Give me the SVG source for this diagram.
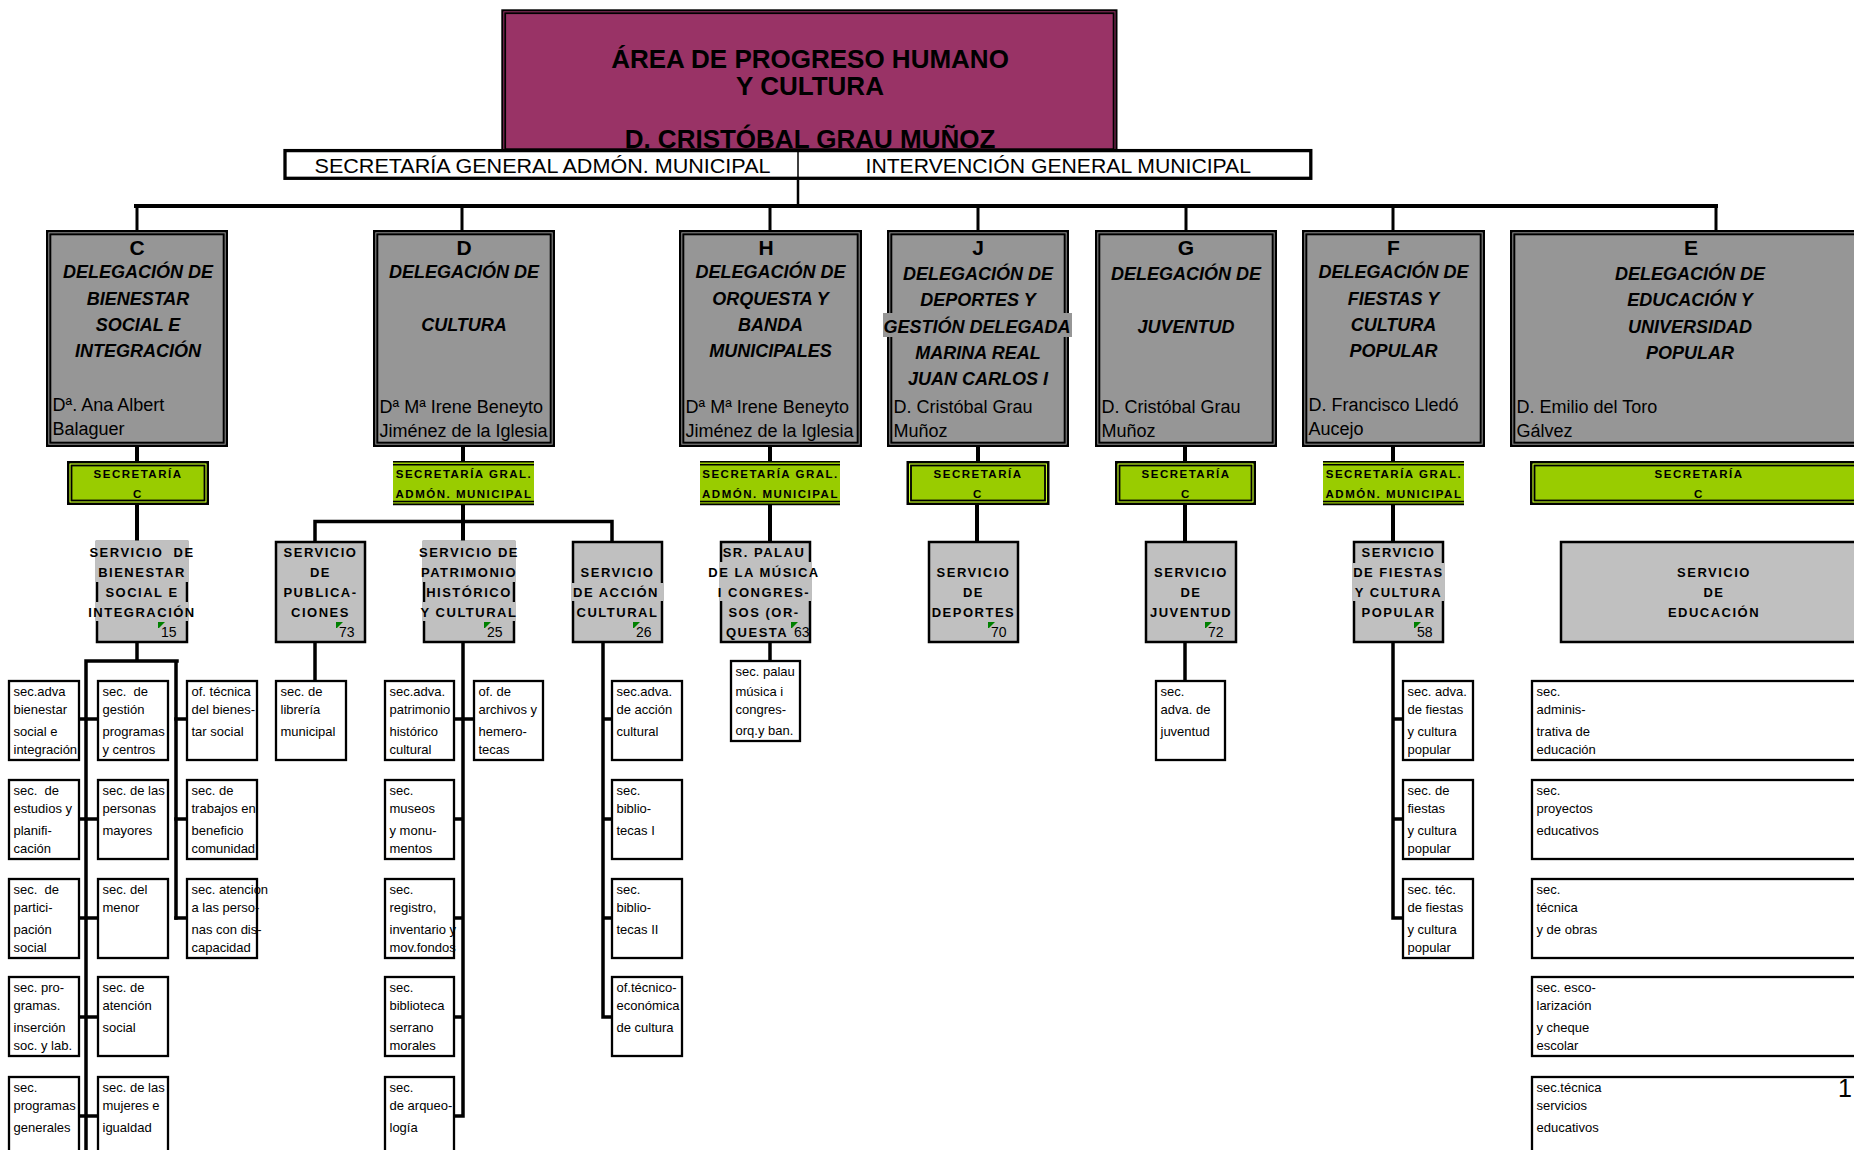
<svg xmlns="http://www.w3.org/2000/svg" width="1854" height="1150" viewBox="0 0 1854 1150">
<style>
text{font-family:"Liberation Sans",Arial,Helvetica,sans-serif;fill:#000}
.ttl{font-size:26px;font-weight:bold;text-anchor:middle}
.bar{font-size:20px}
.dl{fill:#969696;stroke:#000;stroke-width:2.3}
.di{fill:none;stroke:#000;stroke-width:2}
.let{font-size:21px;font-weight:bold;text-anchor:middle}
.dt{font-size:18px;font-weight:bold;font-style:italic;text-anchor:middle}
.nm{font-size:18px}
.g{fill:#99CC00}
.go{fill:#99CC00;stroke:#000;stroke-width:2.6}
.gm{fill:none;stroke:#CCFF33;stroke-width:1}
.gi{fill:none;stroke:#000;stroke-width:1.8}
.gl{stroke:#000;stroke-width:1.6}
.gt{font-size:11.5px;font-weight:bold;letter-spacing:1.5px;text-anchor:middle}
.sv{fill:#C0C0C0;stroke:#000;stroke-width:2.5}
.svb{fill:#C0C0C0}
.svt{font-size:13px;font-weight:bold;letter-spacing:1.5px;text-anchor:middle}
.num{font-size:14px}
.tri{fill:#008000}
.sb{fill:#fff;stroke:#000;stroke-width:2.3}
.st{font-size:13px}
.cn{stroke:#000;stroke-width:3.5;fill:none;stroke-linecap:square}
.cn2{stroke:#000;stroke-width:3;fill:none}
</style>
<defs>
<polygon id="tri" class="tri" points="0,0 7,0 1,6 0,6"/>
</defs>

<!-- connectors -->
<g id="connectors">
<path class="cn2" d="M798 180V206" style="stroke-width:2.5"/>
<path class="cn" d="M136 206H1716" style="stroke-width:4"/>
<path class="cn2" d="M137 206V230M462 206V230M770 206V230M978 206V230M1186 206V230M1393 206V230M1716 206V230"/>
<path class="cn2" d="M137 447V461M463 447V461M770 447V461M978 447V461M1185 447V461M1393 447V461" style="stroke-width:4"/>
<path class="cn2" d="M137 505V542M463 505V542M770 505V542M977 505V542M1185 505V542M1393 505V542" style="stroke-width:4"/>
<path class="cn" d="M315 521.5H612M315 521.5V541M612 521.5V541"/>
<path class="cn" d="M137 643V661M86 661H177M86 661V1150M176 661V918"/>
<path class="cn" d="M80 719H97M80 819H97M80 918H97M80 1017H97M80 1116H97M176 719H186M176 819H186M176 918H186"/>
<path class="cn" d="M315 643V680"/>
<path class="cn" d="M463 643V1116M455 719H473M455 819H463M455 918H463M455 1017H463M455 1116H463"/>
<path class="cn" d="M603 643V1017M603 719H611M603 819H611M603 918H611M603 1017H611"/>
<path class="cn" d="M770 643V660"/>
<path class="cn" d="M1185 643V680"/>
<path class="cn" d="M1393 643V918M1393 719H1402M1393 819H1402M1393 918H1402"/>
</g>

<!-- top -->
<g id="area">
<rect x="502.3" y="10.3" width="614.2" height="141.7" fill="#993366" stroke="#000" stroke-width="2"/>
<rect x="505.2" y="13.2" width="608.4" height="136" fill="none" stroke="#000" stroke-width="1.8"/>
<text class="ttl" x="810" y="68">ÁREA DE PROGRESO HUMANO</text>
<text class="ttl" x="810" y="95">Y CULTURA</text>
<text class="ttl" x="810" y="148">D. CRISTÓBAL GRAU MUÑOZ</text>
</g>
<g id="secretaria-general">
<rect x="285" y="150.6" width="1025.8" height="27.7" fill="#fff" stroke="#000" stroke-width="3.3"/>
<line x1="798" y1="152" x2="798" y2="177" stroke="#000" stroke-width="1.5"/>
<text class="bar" x="314.5" y="173" textLength="456" lengthAdjust="spacingAndGlyphs">SECRETARÍA GENERAL ADMÓN. MUNICIPAL</text>
<text class="bar" x="865.5" y="173" textLength="385.5" lengthAdjust="spacingAndGlyphs">INTERVENCIÓN GENERAL MUNICIPAL</text>
</g>

<!-- delegations -->
<g id="del-c">
<rect class="dl" x="47.15" y="231.15" width="179.7" height="214.7"/>
<rect class="di" x="50.3" y="234.3" width="173.4" height="208.4"/>
<text class="let" x="137" y="255">C</text>
<text class="dt"><tspan x="138" y="278">DELEGACIÓN DE</tspan><tspan x="138" y="304.5">BIENESTAR</tspan><tspan x="138" y="331">SOCIAL E</tspan><tspan x="138" y="357">INTEGRACIÓN</tspan></text>
<text class="nm"><tspan x="52.5" y="411">Dª. Ana Albert</tspan><tspan x="52.5" y="435">Balaguer</tspan></text>
</g>
<g id="del-d">
<rect class="dl" x="374.15" y="231.15" width="179.7" height="214.7"/>
<rect class="di" x="377.3" y="234.3" width="173.4" height="208.4"/>
<text class="let" x="464" y="255">D</text>
<text class="dt"><tspan x="464" y="278">DELEGACIÓN DE</tspan><tspan x="464" y="331">CULTURA</tspan></text>
<text class="nm"><tspan x="379.5" y="413">Dª Mª Irene Beneyto</tspan><tspan x="379.5" y="437">Jiménez de la Iglesia</tspan></text>
</g>
<g id="del-h">
<rect class="dl" x="680.15" y="231.15" width="180.7" height="214.7"/>
<rect class="di" x="683.3" y="234.3" width="174.4" height="208.4"/>
<text class="let" x="766" y="255">H</text>
<text class="dt"><tspan x="770.5" y="278">DELEGACIÓN DE</tspan><tspan x="770.5" y="304.5">ORQUESTA Y</tspan><tspan x="770.5" y="331">BANDA</tspan><tspan x="770.5" y="357">MUNICIPALES</tspan></text>
<text class="nm"><tspan x="685.5" y="413">Dª Mª Irene Beneyto</tspan><tspan x="685.5" y="437">Jiménez de la Iglesia</tspan></text>
</g>
<g id="del-j">
<rect class="dl" x="888.15" y="231.15" width="179.7" height="214.7"/>
<rect class="di" x="891.3" y="234.3" width="173.4" height="208.4"/>
<rect x="883" y="313" width="189" height="24" fill="#969696"/>
<text class="let" x="978" y="255">J</text>
<text class="dt"><tspan x="978" y="280">DELEGACIÓN DE</tspan><tspan x="978" y="306">DEPORTES Y</tspan><tspan x="977" y="332.5">GESTIÓN DELEGADA</tspan><tspan x="978" y="359">MARINA REAL</tspan><tspan x="978" y="385">JUAN CARLOS I</tspan></text>
<text class="nm"><tspan x="893.5" y="413">D. Cristóbal Grau</tspan><tspan x="893.5" y="437">Muñoz</tspan></text>
</g>
<g id="del-g">
<rect class="dl" x="1096.15" y="231.15" width="179.7" height="214.7"/>
<rect class="di" x="1099.3" y="234.3" width="173.4" height="208.4"/>
<text class="let" x="1186" y="255">G</text>
<text class="dt"><tspan x="1186" y="280">DELEGACIÓN DE</tspan><tspan x="1186" y="333">JUVENTUD</tspan></text>
<text class="nm"><tspan x="1101.5" y="413">D. Cristóbal Grau</tspan><tspan x="1101.5" y="437">Muñoz</tspan></text>
</g>
<g id="del-f">
<rect class="dl" x="1303.15" y="231.15" width="180.7" height="214.7"/>
<rect class="di" x="1306.3" y="234.3" width="174.4" height="208.4"/>
<text class="let" x="1393.5" y="255">F</text>
<text class="dt"><tspan x="1393.5" y="278">DELEGACIÓN DE</tspan><tspan x="1393.5" y="304.5">FIESTAS Y</tspan><tspan x="1393.5" y="331">CULTURA</tspan><tspan x="1393.5" y="357">POPULAR</tspan></text>
<text class="nm"><tspan x="1308.5" y="411">D. Francisco Lledó</tspan><tspan x="1308.5" y="435">Aucejo</tspan></text>
</g>
<g id="del-e">
<rect class="dl" x="1511.15" y="231.15" width="417.7" height="214.7"/>
<rect class="di" x="1514.3" y="234.3" width="411.4" height="208.4"/>
<text class="let" x="1691" y="255">E</text>
<text class="dt"><tspan x="1690" y="280">DELEGACIÓN DE</tspan><tspan x="1690" y="306">EDUCACIÓN Y</tspan><tspan x="1690" y="333">UNIVERSIDAD</tspan><tspan x="1690" y="359">POPULAR</tspan></text>
<text class="nm"><tspan x="1516.5" y="413">D. Emilio del Toro</tspan><tspan x="1516.5" y="437">Gálvez</tspan></text>
</g>

<!-- secretarías -->
<g id="sec-c">
<rect class="go" x="68.3" y="462.3" width="139.4" height="41.4"/>
<rect class="gm" x="70.1" y="464.1" width="135.8" height="37.8"/>
<rect class="gi" x="71.5" y="465.5" width="133" height="35"/>
<text class="gt"><tspan x="138" y="478">SECRETARÍA</tspan><tspan x="138" y="497.5">C</tspan></text>
</g>
<g id="sec-d">
<rect class="g" x="393" y="461" width="141" height="44"/>
<path class="gl" d="M393 461.8H534M393 464.7H534M393 501.5H534M393 504.4H534"/>
<text class="gt"><tspan x="464" y="478">SECRETARÍA GRAL.</tspan><tspan x="464" y="497.5">ADMÓN. MUNICIPAL</tspan></text>
</g>
<g id="sec-h">
<rect class="g" x="700" y="461" width="140" height="44"/>
<path class="gl" d="M700 461.8H840M700 464.7H840M700 501.5H840M700 504.4H840"/>
<text class="gt"><tspan x="770.5" y="478">SECRETARÍA GRAL.</tspan><tspan x="770.5" y="497.5">ADMÓN. MUNICIPAL</tspan></text>
</g>
<g id="sec-j">
<rect class="go" x="907.8" y="462.3" width="140.4" height="41.4"/>
<rect class="gm" x="909.6" y="464.1" width="136.8" height="37.8"/>
<rect class="gi" x="911" y="465.5" width="134" height="35"/>
<text class="gt"><tspan x="978" y="478">SECRETARÍA</tspan><tspan x="978" y="497.5">C</tspan></text>
</g>
<g id="sec-g">
<rect class="go" x="1116.3" y="462.3" width="138.4" height="41.4"/>
<rect class="gm" x="1118.1" y="464.1" width="134.8" height="37.8"/>
<rect class="gi" x="1119.5" y="465.5" width="132" height="35"/>
<text class="gt"><tspan x="1186" y="478">SECRETARÍA</tspan><tspan x="1186" y="497.5">C</tspan></text>
</g>
<g id="sec-f">
<rect class="g" x="1323" y="461" width="141" height="44"/>
<path class="gl" d="M1323 461.8H1464M1323 464.7H1464M1323 501.5H1464M1323 504.4H1464"/>
<text class="gt"><tspan x="1394" y="478">SECRETARÍA GRAL.</tspan><tspan x="1394" y="497.5">ADMÓN. MUNICIPAL</tspan></text>
</g>
<g id="sec-e">
<rect class="go" x="1531.3" y="462.3" width="337.4" height="41.4"/>
<rect class="gm" x="1533.1" y="464.1" width="333.8" height="37.8"/>
<rect class="gi" x="1534.5" y="465.5" width="331" height="35"/>
<text class="gt"><tspan x="1699" y="478">SECRETARÍA</tspan><tspan x="1699" y="497.5">C</tspan></text>
</g>

<!-- servicios -->
<g id="svc-bienestar">
<rect class="sv" x="97" y="542" width="90" height="100"/>
<rect class="svb" x="95.5" y="540.5" width="93" height="41.5"/>
<rect class="svb" x="95.5" y="602" width="93" height="19"/>
<text class="svt"><tspan x="142" y="557">SERVICIO&#160; DE</tspan><tspan x="142" y="577">BIENESTAR</tspan><tspan x="142" y="596.5">SOCIAL E</tspan><tspan x="142" y="616.5">INTEGRACIÓN</tspan></text>
<use href="#tri" x="158" y="622"/><text class="num" x="161" y="637">15</text>
</g>
<g id="svc-publicaciones">
<rect class="sv" x="276" y="542" width="89" height="100"/>
<text class="svt"><tspan x="320.5" y="557">SERVICIO</tspan><tspan x="320.5" y="577">DE</tspan><tspan x="320.5" y="596.5">PUBLICA-</tspan><tspan x="320.5" y="616.5">CIONES</tspan></text>
<use href="#tri" x="336" y="622"/><text class="num" x="339" y="637">73</text>
</g>
<g id="svc-patrimonio">
<rect class="sv" x="424" y="542" width="90" height="100"/>
<rect class="svb" x="422.5" y="540.5" width="93" height="41.5"/>
<rect class="svb" x="422.5" y="602" width="93" height="19"/>
<text class="svt"><tspan x="469" y="557">SERVICIO DE</tspan><tspan x="469" y="577">PATRIMONIO</tspan><tspan x="469" y="596.5">HISTÓRICO</tspan><tspan x="469" y="616.5">Y CULTURAL</tspan></text>
<use href="#tri" x="484" y="622"/><text class="num" x="487" y="637">25</text>
</g>
<g id="svc-accion">
<rect class="sv" x="573" y="542" width="89" height="100"/>
<rect class="svb" x="571.5" y="583" width="92" height="18"/>
<text class="svt"><tspan x="617.5" y="577">SERVICIO</tspan><tspan x="616" y="596.5">DE ACCIÓN</tspan><tspan x="617.5" y="616.5">CULTURAL</tspan></text>
<use href="#tri" x="633" y="622"/><text class="num" x="636" y="637">26</text>
</g>
<g id="svc-palau">
<rect class="sv" x="721" y="542" width="89" height="100"/>
<rect class="svb" x="719.5" y="562" width="92" height="39"/>
<text class="svt"><tspan x="764" y="557">SR. PALAU</tspan><tspan x="764" y="577">DE LA MÚSICA</tspan><tspan x="764" y="596.5">I CONGRES-</tspan><tspan x="764" y="616.5">SOS (OR-</tspan></text>
<text class="svt" style="text-anchor:start" x="726" y="637">QUESTA</text>
<use href="#tri" x="791" y="622"/><text class="num" x="794" y="637">63</text>
</g>
<g id="svc-deportes">
<rect class="sv" x="929" y="542" width="89" height="100"/>
<text class="svt"><tspan x="973.5" y="577">SERVICIO</tspan><tspan x="973.5" y="596.5">DE</tspan><tspan x="973.5" y="616.5">DEPORTES</tspan></text>
<use href="#tri" x="988" y="622"/><text class="num" x="991" y="637">70</text>
</g>
<g id="svc-juventud">
<rect class="sv" x="1146" y="542" width="90" height="100"/>
<text class="svt"><tspan x="1191" y="577">SERVICIO</tspan><tspan x="1191" y="596.5">DE</tspan><tspan x="1191" y="616.5">JUVENTUD</tspan></text>
<use href="#tri" x="1205" y="622"/><text class="num" x="1208" y="637">72</text>
</g>
<g id="svc-fiestas">
<rect class="sv" x="1354" y="542" width="89" height="100"/>
<rect class="svb" x="1352.5" y="563" width="92" height="38"/>
<text class="svt"><tspan x="1398.5" y="557">SERVICIO</tspan><tspan x="1398.5" y="577">DE FIESTAS</tspan><tspan x="1398.5" y="596.5">Y CULTURA</tspan><tspan x="1398.5" y="616.5">POPULAR</tspan></text>
<use href="#tri" x="1414" y="622"/><text class="num" x="1417" y="637">58</text>
</g>
<g id="svc-educacion">
<rect class="sv" x="1561" y="542" width="304" height="100"/>
<text class="svt"><tspan x="1714" y="577">SERVICIO</tspan><tspan x="1714" y="596.5">DE</tspan><tspan x="1714" y="616.5">EDUCACIÓN</tspan></text>
</g>

<!-- secciones bienestar -->
<g id="s-c1-1"><rect class="sb" x="9" y="681" width="70" height="79"/><text class="st"><tspan x="13.5" y="696">sec.adva</tspan><tspan x="13.5" y="714">bienestar</tspan><tspan x="13.5" y="736">social e</tspan><tspan x="13.5" y="754">integración</tspan></text></g>
<g id="s-c1-2"><rect class="sb" x="9" y="780" width="70" height="79"/><text class="st"><tspan x="13.5" y="795">sec.&#160; de</tspan><tspan x="13.5" y="813">estudios y</tspan><tspan x="13.5" y="835">planifi-</tspan><tspan x="13.5" y="853">cación</tspan></text></g>
<g id="s-c1-3"><rect class="sb" x="9" y="879" width="70" height="79"/><text class="st"><tspan x="13.5" y="894">sec.&#160; de</tspan><tspan x="13.5" y="912">partici-</tspan><tspan x="13.5" y="934">pación</tspan><tspan x="13.5" y="952">social</tspan></text></g>
<g id="s-c1-4"><rect class="sb" x="9" y="977" width="70" height="79"/><text class="st"><tspan x="13.5" y="992">sec. pro-</tspan><tspan x="13.5" y="1010">gramas.</tspan><tspan x="13.5" y="1032">inserción</tspan><tspan x="13.5" y="1050">soc. y lab.</tspan></text></g>
<g id="s-c1-5"><rect class="sb" x="9" y="1077" width="70" height="79"/><text class="st"><tspan x="13.5" y="1092">sec.</tspan><tspan x="13.5" y="1110">programas</tspan><tspan x="13.5" y="1132">generales</tspan></text></g>
<g id="s-c2-1"><rect class="sb" x="98" y="681" width="70" height="79"/><text class="st"><tspan x="102.5" y="696">sec.&#160; de</tspan><tspan x="102.5" y="714">gestión</tspan><tspan x="102.5" y="736">programas</tspan><tspan x="102.5" y="754">y centros</tspan></text></g>
<g id="s-c2-2"><rect class="sb" x="98" y="780" width="70" height="79"/><text class="st"><tspan x="102.5" y="795">sec. de las</tspan><tspan x="102.5" y="813">personas</tspan><tspan x="102.5" y="835">mayores</tspan></text></g>
<g id="s-c2-3"><rect class="sb" x="98" y="879" width="70" height="79"/><text class="st"><tspan x="102.5" y="894">sec. del</tspan><tspan x="102.5" y="912">menor</tspan></text></g>
<g id="s-c2-4"><rect class="sb" x="98" y="977" width="70" height="79"/><text class="st"><tspan x="102.5" y="992">sec. de</tspan><tspan x="102.5" y="1010">atención</tspan><tspan x="102.5" y="1032">social</tspan></text></g>
<g id="s-c2-5"><rect class="sb" x="98" y="1077" width="70" height="79"/><text class="st"><tspan x="102.5" y="1092">sec. de las</tspan><tspan x="102.5" y="1110">mujeres e</tspan><tspan x="102.5" y="1132">igualdad</tspan></text></g>
<g id="s-c3-1"><rect class="sb" x="187" y="681" width="70" height="79"/><text class="st"><tspan x="191.5" y="696">of. técnica</tspan><tspan x="191.5" y="714">del bienes-</tspan><tspan x="191.5" y="736">tar social</tspan></text></g>
<g id="s-c3-2"><rect class="sb" x="187" y="780" width="70" height="79"/><text class="st"><tspan x="191.5" y="795">sec. de</tspan><tspan x="191.5" y="813">trabajos en</tspan><tspan x="191.5" y="835">beneficio</tspan><tspan x="191.5" y="853">comunidad</tspan></text></g>
<g id="s-c3-3"><rect class="sb" x="187" y="879" width="70" height="79"/><text class="st"><tspan x="191.5" y="894">sec. atencion</tspan><tspan x="191.5" y="912">a las perso-</tspan><tspan x="191.5" y="934">nas con dis-</tspan><tspan x="191.5" y="952">capacidad</tspan></text></g>

<!-- secciones cultura -->
<g id="s-libreria"><rect class="sb" x="276" y="681" width="70" height="79"/><text class="st"><tspan x="280.5" y="696">sec. de</tspan><tspan x="280.5" y="714">librería</tspan><tspan x="280.5" y="736">municipal</tspan></text></g>
<g id="s-p1"><rect class="sb" x="385" y="681" width="69" height="79"/><text class="st"><tspan x="389.5" y="696">sec.adva.</tspan><tspan x="389.5" y="714">patrimonio</tspan><tspan x="389.5" y="736">histórico</tspan><tspan x="389.5" y="754">cultural</tspan></text></g>
<g id="s-p2"><rect class="sb" x="385" y="780" width="69" height="79"/><text class="st"><tspan x="389.5" y="795">sec.</tspan><tspan x="389.5" y="813">museos</tspan><tspan x="389.5" y="835">y monu-</tspan><tspan x="389.5" y="853">mentos</tspan></text></g>
<g id="s-p3"><rect class="sb" x="385" y="879" width="69" height="79"/><text class="st"><tspan x="389.5" y="894">sec.</tspan><tspan x="389.5" y="912">registro,</tspan><tspan x="389.5" y="934">inventario y</tspan><tspan x="389.5" y="952">mov.fondos</tspan></text></g>
<g id="s-p4"><rect class="sb" x="385" y="977" width="69" height="79"/><text class="st"><tspan x="389.5" y="992">sec.</tspan><tspan x="389.5" y="1010">biblioteca</tspan><tspan x="389.5" y="1032">serrano</tspan><tspan x="389.5" y="1050">morales</tspan></text></g>
<g id="s-p5"><rect class="sb" x="385" y="1077" width="69" height="79"/><text class="st"><tspan x="389.5" y="1092">sec.</tspan><tspan x="389.5" y="1110">de arqueo-</tspan><tspan x="389.5" y="1132">logía</tspan></text></g>
<g id="s-archivos"><rect class="sb" x="474" y="681" width="69" height="79"/><text class="st"><tspan x="478.5" y="696">of. de</tspan><tspan x="478.5" y="714">archivos y</tspan><tspan x="478.5" y="736">hemero-</tspan><tspan x="478.5" y="754">tecas</tspan></text></g>
<g id="s-a1"><rect class="sb" x="612" y="681" width="70" height="79"/><text class="st"><tspan x="616.5" y="696">sec.adva.</tspan><tspan x="616.5" y="714">de acción</tspan><tspan x="616.5" y="736">cultural</tspan></text></g>
<g id="s-a2"><rect class="sb" x="612" y="780" width="70" height="79"/><text class="st"><tspan x="616.5" y="795">sec.</tspan><tspan x="616.5" y="813">biblio-</tspan><tspan x="616.5" y="835">tecas I</tspan></text></g>
<g id="s-a3"><rect class="sb" x="612" y="879" width="70" height="79"/><text class="st"><tspan x="616.5" y="894">sec.</tspan><tspan x="616.5" y="912">biblio-</tspan><tspan x="616.5" y="934">tecas II</tspan></text></g>
<g id="s-a4"><rect class="sb" x="612" y="977" width="70" height="79"/><text class="st"><tspan x="616.5" y="992">of.técnico-</tspan><tspan x="616.5" y="1010">económica</tspan><tspan x="616.5" y="1032">de cultura</tspan></text></g>
<g id="s-palau"><rect class="sb" x="731" y="661" width="69" height="80"/><text class="st"><tspan x="735.5" y="676">sec. palau</tspan><tspan x="735.5" y="696">música i</tspan><tspan x="735.5" y="714">congres-</tspan><tspan x="735.5" y="735">orq.y ban.</tspan></text></g>
<g id="s-juventud"><rect class="sb" x="1156" y="681" width="69" height="79"/><text class="st"><tspan x="1160.5" y="696">sec.</tspan><tspan x="1160.5" y="714">adva. de</tspan><tspan x="1160.5" y="736">juventud</tspan></text></g>
<g id="s-f1"><rect class="sb" x="1403" y="681" width="70" height="79"/><text class="st"><tspan x="1407.5" y="696">sec. adva.</tspan><tspan x="1407.5" y="714">de fiestas</tspan><tspan x="1407.5" y="736">y cultura</tspan><tspan x="1407.5" y="754">popular</tspan></text></g>
<g id="s-f2"><rect class="sb" x="1403" y="780" width="70" height="79"/><text class="st"><tspan x="1407.5" y="795">sec. de</tspan><tspan x="1407.5" y="813">fiestas</tspan><tspan x="1407.5" y="835">y cultura</tspan><tspan x="1407.5" y="853">popular</tspan></text></g>
<g id="s-f3"><rect class="sb" x="1403" y="879" width="70" height="79"/><text class="st"><tspan x="1407.5" y="894">sec. téc.</tspan><tspan x="1407.5" y="912">de fiestas</tspan><tspan x="1407.5" y="934">y cultura</tspan><tspan x="1407.5" y="952">popular</tspan></text></g>
<g id="s-e1"><rect class="sb" x="1532" y="681" width="380" height="79"/><text class="st"><tspan x="1536.5" y="696">sec.</tspan><tspan x="1536.5" y="714">adminis-</tspan><tspan x="1536.5" y="736">trativa de</tspan><tspan x="1536.5" y="754">educación</tspan></text></g>
<g id="s-e2"><rect class="sb" x="1532" y="780" width="380" height="79"/><text class="st"><tspan x="1536.5" y="795">sec.</tspan><tspan x="1536.5" y="813">proyectos</tspan><tspan x="1536.5" y="835">educativos</tspan></text></g>
<g id="s-e3"><rect class="sb" x="1532" y="879" width="380" height="79"/><text class="st"><tspan x="1536.5" y="894">sec.</tspan><tspan x="1536.5" y="912">técnica</tspan><tspan x="1536.5" y="934">y de obras</tspan></text></g>
<g id="s-e4"><rect class="sb" x="1532" y="977" width="380" height="79"/><text class="st"><tspan x="1536.5" y="992">sec. esco-</tspan><tspan x="1536.5" y="1010">larización</tspan><tspan x="1536.5" y="1032">y cheque</tspan><tspan x="1536.5" y="1050">escolar</tspan></text></g>
<g id="s-e5"><rect class="sb" x="1532" y="1077" width="380" height="79"/><text class="st"><tspan x="1536.5" y="1092">sec.técnica</tspan><tspan x="1536.5" y="1110">servicios</tspan><tspan x="1536.5" y="1132">educativos</tspan></text></g>

<g id="page-number"><text x="1845" y="1097" font-size="25" text-anchor="middle">1</text></g>
</svg>
